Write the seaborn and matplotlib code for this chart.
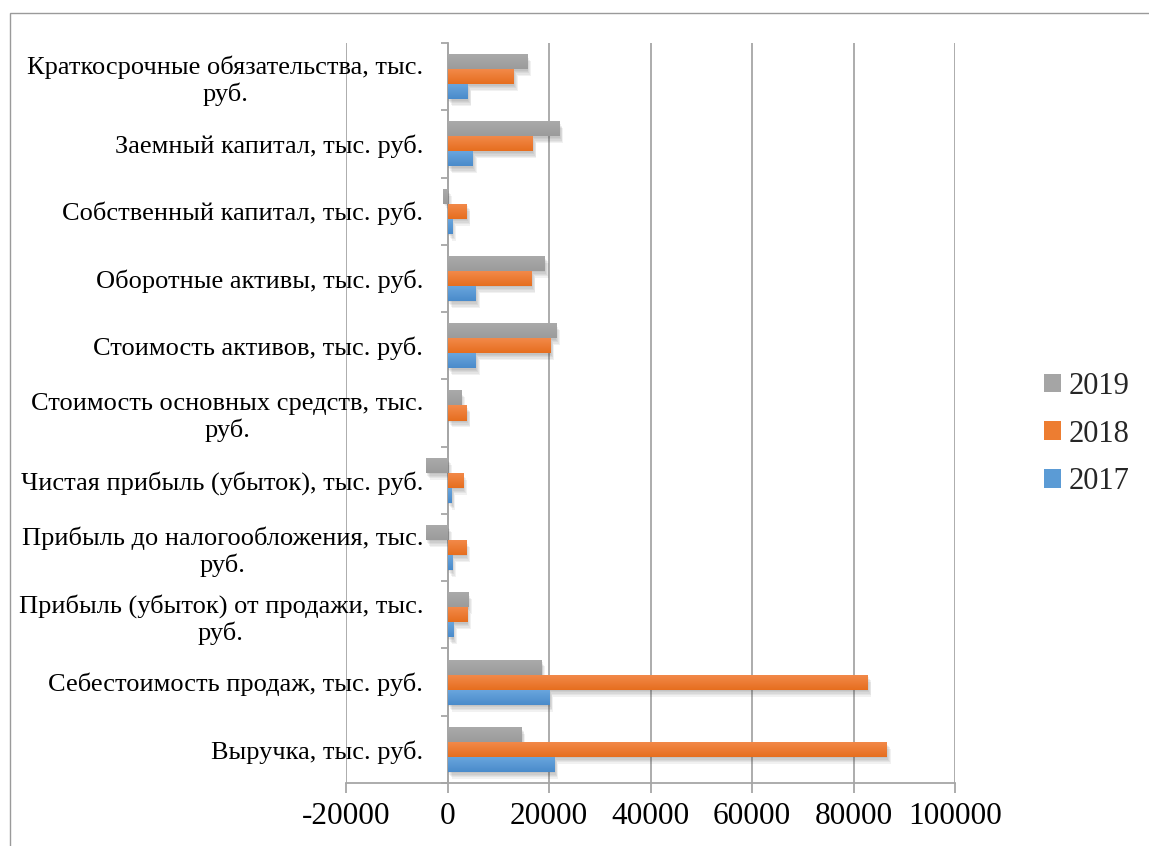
import matplotlib
matplotlib.use("Agg")
import matplotlib.pyplot as plt
import matplotlib.patheffects as pe
from matplotlib.colors import to_rgb
from matplotlib.patches import Rectangle
from matplotlib.ticker import FixedLocator
import numpy as np
import pandas as pd
import seaborn as sns

# Indicators, top to bottom
categories = [
    "Краткосрочные обязательства, тыс.\nруб.",
    "Заемный капитал, тыс. руб.",
    "Собственный капитал, тыс. руб.",
    "Оборотные активы, тыс. руб.",
    "Стоимость активов, тыс. руб.",
    "Стоимость основных средств, тыс.\nруб.",
    "Чистая прибыль (убыток), тыс. руб.",
    "Прибыль до налогообложения, тыс.\nруб.",
    "Прибыль (убыток) от продажи, тыс.\nруб.",
    "Себестоимость продаж, тыс. руб.",
    "Выручка, тыс. руб.",
]

years = ["2019", "2018", "2017"]

values_2019 = [15600, 22000, -800, 19100, 21300, 2600, -4300, -4300, 4000, 18400, 14500]
values_2018 = [13000, 16700, 3700, 16500, 20200, 3700, 3000, 3600, 3800, 82700, 86500]
values_2017 = [3900, 4900, 800, 5500, 5500, 0, 700, 850, 1050, 20000, 21000]

x_ticks = [-20000, 0, 20000, 40000, 60000, 80000, 100000]

colors = {"2019": "#a5a5a5", "2018": "#ed7d31", "2017": "#5b9bd5"}
# light (top edge) and dark (bottom edge) shades for the bar gradient
shade_top = {"2019": "#ababab", "2018": "#f38b4c", "2017": "#6ba7de"}
shade_bottom = {"2019": "#9b9b9b", "2018": "#e66e1f", "2017": "#4a8bcb"}

df = pd.DataFrame({
    "category": categories * 3,
    "year": ["2019"] * 11 + ["2018"] * 11 + ["2017"] * 11,
    "value": values_2019 + values_2018 + values_2017,
})

sns.set_theme(style="white")
plt.rcParams["font.family"] = ["Liberation Serif", "DejaVu Serif"]

fig = plt.figure(figsize=(11.49, 8.46), dpi=100)
ax = fig.add_axes([346 / 1149, 1 - 783 / 846, (955 - 346) / 1149, (783 - 43) / 846])

sns.barplot(
    data=df, y="category", x="value", hue="year", hue_order=years,
    order=categories, palette=colors, saturation=1, width=0.67,
    orient="h", ax=ax, legend=False, errorbar=None,
)

# soft drop shadow under each bar, then a vertical gradient fill
shadow = []
for k in range(1, 6):
    shadow.append(pe.SimplePatchShadow(offset=(0.6 * k, -1.0 * k),
                                       shadow_rgbFace="#404040", alpha=0.07))
shadow.append(pe.Normal())

bars = list(ax.patches)
for patch in bars:
    patch.set_linewidth(0)
    patch.set_zorder(3)
    if patch.get_width() == 0:
        continue
    patch.set_path_effects(shadow)
    fc = np.array(to_rgb(patch.get_facecolor()))
    year = min(colors, key=lambda y: np.sum((np.array(to_rgb(colors[y])) - fc) ** 2))
    top = np.array(to_rgb(shade_top[year]))
    bot = np.array(to_rgb(shade_bottom[year]))
    t = np.linspace(0, 1, 32)[:, None]
    grad = (top * (1 - t) + bot * t)[:, None, :]
    x0 = patch.get_x()
    x1 = x0 + patch.get_width()
    yt = patch.get_y()
    yb = yt + patch.get_height()
    img = ax.imshow(grad, extent=(min(x0, x1), max(x0, x1), yb, yt), origin="upper",
                    aspect="auto", interpolation="bilinear", zorder=4)
    img.set_clip_path(patch)

grid_c = "#a6a6a6"
ax.set_xlim(-20000, 100000)
ax.set_ylim(len(categories) - 0.5, -0.5)
ax.set_xticks(x_ticks)
ax.set_xticklabels([str(t) for t in x_ticks], fontsize=22.5)
ax.xaxis.grid(True, color=grid_c, linewidth=1.3, zorder=0)
ax.set_axisbelow(True)
ax.set_xlabel("")
ax.set_ylabel("")

for side in ["top", "right"]:
    ax.spines[side].set_visible(False)
ax.spines["bottom"].set_color(grid_c)
ax.spines["bottom"].set_linewidth(1.3)
ax.spines["left"].set_position(("data", 0))
ax.spines["left"].set_color(grid_c)
ax.spines["left"].set_linewidth(1.3)

ax.tick_params(axis="x", bottom=True, length=7, width=1.3, color=grid_c, pad=7, labelcolor="black")
ax.tick_params(axis="y", which="major", left=False, length=0, pad=17.5, labelsize=19, labelcolor="black")
ax.yaxis.set_minor_locator(FixedLocator(np.arange(-0.5, len(categories), 1.0)))
ax.tick_params(axis="y", which="minor", left=True, length=5, width=1.3, color=grid_c, direction="out")
for lbl in ax.get_yticklabels():
    lbl.set_multialignment("center")

# legend on the right
handles = [Rectangle((0, 0), 1, 1, facecolor=colors[y], edgecolor="none") for y in years]
fig.legend(
    handles, years, loc="center left", bbox_to_anchor=(1044 / 1149, 1 - 434 / 846),
    frameon=False, fontsize=22, handlelength=0.55, handleheight=0.55,
    handletextpad=0.25, labelspacing=0.62, borderpad=0, borderaxespad=0,
)

# chart area border
fig.add_artist(Rectangle((10 / 1149, -0.1), 1.2, 1 - 13 / 846 + 0.1,
                         transform=fig.transFigure, fill=False,
                         edgecolor="#9a9a9a", linewidth=1.0))

fig.savefig("out.png", dpi=100)
